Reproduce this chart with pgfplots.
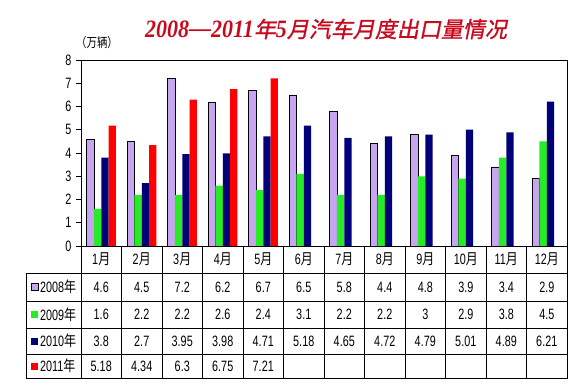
\documentclass[border=0pt]{standalone}
\usepackage{pgfplots}
\pgfplotsset{compat=1.18}
\usepackage{fontspec}
\setmainfont{Liberation Sans}[FakeStretch=0.72]
\newfontfamily\cjk{Noto Sans CJK SC}[FakeStretch=0.8]
\newfontfamily\titlecjk{Noto Sans CJK SC}[FakeSlant=0.2, FakeBold=1.2]
\newfontfamily\titlelat{Liberation Serif}[FakeStretch=0.88]
\newcommand\yue{{\cjk 月}}
\newcommand\nian{{\cjk 年}}
\definecolor{cA}{RGB}{200,165,240}
\definecolor{cB}{RGB}{40,235,40}
\definecolor{cC}{RGB}{0,0,120}
\definecolor{cD}{RGB}{255,0,0}
\definecolor{titlered}{RGB}{200,10,30}
\pgfplotstableread{
x y08 y09 y10 y11
0 4.6 1.6 3.8 5.18
1 4.5 2.2 2.7 4.34
2 7.2 2.2 3.95 6.3
3 6.2 2.6 3.98 6.75
4 6.7 2.4 4.71 7.21
5 6.5 3.1 5.18 nan
6 5.8 2.2 4.65 nan
7 4.4 2.2 4.72 nan
8 4.8 3 4.79 nan
9 3.9 2.9 5.01 nan
10 3.4 3.8 4.89 nan
11 2.9 4.5 6.21 nan
}\datatab
\begin{document}
\begin{tikzpicture}[x=1pt,y=1pt]
\useasboundingbox (-81,-143) rectangle (496,246);
\begin{axis}[
  scale only axis, width=486pt, height=186pt,
  at={(0,0)}, anchor=south west,
  xmin=-0.5, xmax=11.5, ymin=0, ymax=8,
  ytick={0,1,...,8}, xtick=\empty, ytick pos=left,
  ybar=0pt, bar width=0.18,
  tick align=outside, major tick length=5pt,
  axis line style={black, line width=0.8pt},
  ytick style={black, line width=0.6pt},
  yticklabel style={font=\fontsize{15}{15}\selectfont, xshift=-1pt},
  /pgf/number format/assume math mode=true,
  unbounded coords=discard,
  clip=false,
]
\addplot[fill=cA, draw=black, line width=0.7pt] table[x=x,y=y08]{\datatab};
\addplot[fill=cB, draw=none] table[x=x,y=y09]{\datatab};
\addplot[fill=cC, draw=none] table[x=x,y=y10]{\datatab};
\addplot[fill=cD, draw=none] table[x=x,y=y11]{\datatab};
\end{axis}
% title and unit
\node[text=titlered, font=\fontsize{22}{22}\selectfont] at (245,217)
  {{\titlelat\bfseries\itshape\fontsize{25}{25}\selectfont 2008\raisebox{0.5pt}{—}2011}{\titlecjk 年}{\titlelat\bfseries\itshape\fontsize{25}{25}\selectfont 5}{\titlecjk 月汽车月度出口量情况}};
\node[font=\fontsize{13}{13}\selectfont] at (16,203) {\cjk （万辆）};
% table grid
\begin{scope}[line width=0.8pt, black]
\draw (0,-27) -- (0,0) -- (486,0) -- (486,-132);
\foreach \k in {1,...,11} \draw (40.5*\k,0) -- (40.5*\k,-132);
\draw (0,0) -- (0,-132);
\draw (-55,-27) rectangle (486,-132);
\foreach \yy in {-55,-82,-108} \draw (-55,\yy) -- (486,\yy);
\end{scope}
% month labels
\foreach \m [count=\i from 0] in {1,...,12}
  \node[font=\fontsize{15}{15}\selectfont] at (40.5*\i+20.25,-13.5) {\m\yue};
% legend column
\foreach \c/\yr/\yy in {cA/2008/-41, cB/2009/-68.5, cC/2010/-95, cD/2011/-120}{
  \fill[\c] (-50,\yy-3.5) rectangle (-43,\yy+3.5);
  \node[anchor=west, font=\fontsize{15}{15}\selectfont, inner sep=0pt] at (-41,\yy) {\yr\nian};
}
\draw[black, line width=0.6pt] (-50,-44.5) rectangle (-43,-37.5);
% values
\foreach \v [count=\i from 0] in {4.6,4.5,7.2,6.2,6.7,6.5,5.8,4.4,4.8,3.9,3.4,2.9}
  \node[font=\fontsize{15}{15}\selectfont] at (40.5*\i+20.25,-41) {\v};
\foreach \v [count=\i from 0] in {1.6,2.2,2.2,2.6,2.4,3.1,2.2,2.2,3,2.9,3.8,4.5}
  \node[font=\fontsize{15}{15}\selectfont] at (40.5*\i+20.25,-68.5) {\v};
\foreach \v [count=\i from 0] in {3.8,2.7,3.95,3.98,4.71,5.18,4.65,4.72,4.79,5.01,4.89,6.21}
  \node[font=\fontsize{15}{15}\selectfont] at (40.5*\i+20.25,-95) {\v};
\foreach \v [count=\i from 0] in {5.18,4.34,6.3,6.75,7.21}
  \node[font=\fontsize{15}{15}\selectfont] at (40.5*\i+20.25,-120) {\v};
\end{tikzpicture}
\end{document}
